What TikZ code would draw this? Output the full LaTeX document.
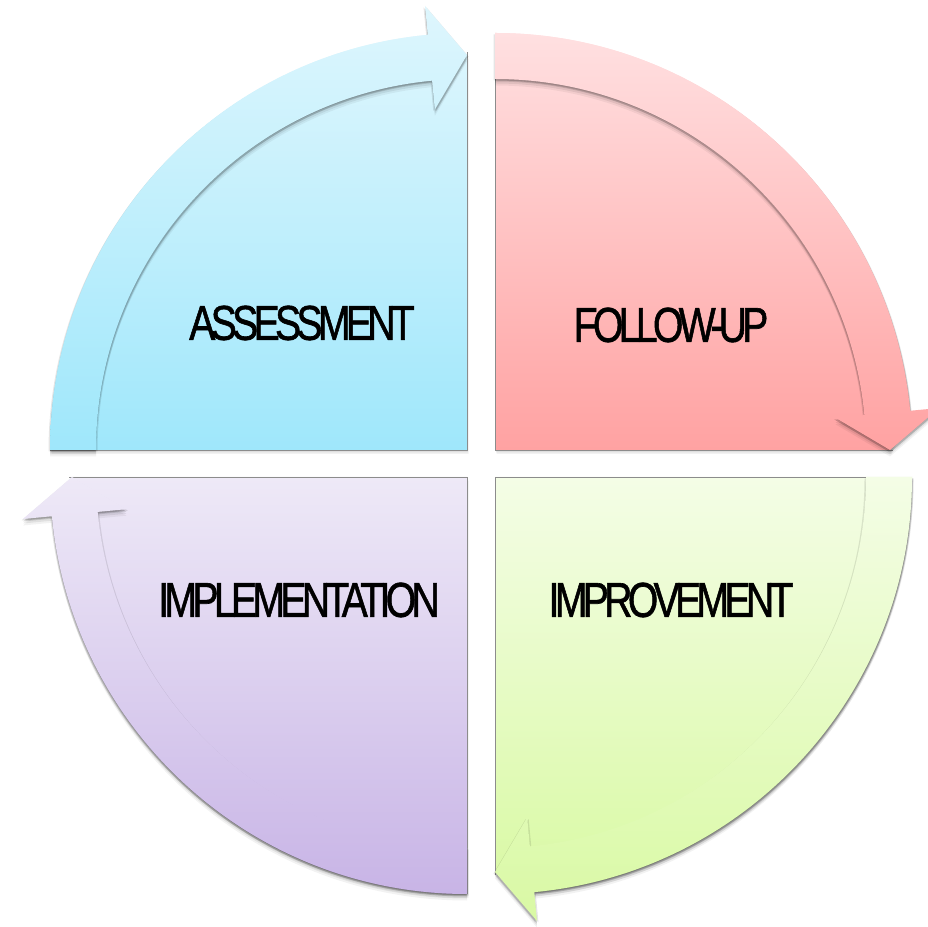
\documentclass[tikz,border=0pt]{standalone}
\usepackage{fontspec}
\setmainfont{Liberation Sans}
\newfontfamily\lblfont[LetterSpace=-12,FakeBold=1.3]{Liberation Sans}
\usetikzlibrary{shadows}
\definecolor{blueT}{HTML}{DEF6FD}
\definecolor{blueB}{HTML}{9FE7FB}
\definecolor{pinkT}{HTML}{FFE0E1}
\definecolor{pinkB}{HTML}{FFA2A2}
\definecolor{greenT}{HTML}{F4FDE6}
\definecolor{greenB}{HTML}{D9F9A4}
\definecolor{purpT}{HTML}{EEE9F7}
\definecolor{purpB}{HTML}{C8B4E6}
\tikzset{
  sectorshape/.style={
    general shadow={fill=black,opacity=0.10,shadow xshift=0.5pt,shadow yshift=-1pt},
    general shadow={fill=black,opacity=0.08,shadow xshift=1pt,shadow yshift=-2.5pt},
    general shadow={fill=black,opacity=0.05,shadow xshift=1.5pt,shadow yshift=-4pt}},
  bandshape/.style={
    general shadow={fill=black,opacity=0.10,shadow xshift=-1.5pt,shadow yshift=-1.5pt},
    general shadow={fill=black,opacity=0.10,shadow xshift=1.5pt,shadow yshift=-1.5pt},
    general shadow={fill=black,opacity=0.12,shadow xshift=0pt,shadow yshift=-2.5pt},
    general shadow={fill=black,opacity=0.07,shadow xshift=0pt,shadow yshift=-4.5pt},
    general shadow={fill=black,opacity=0.05,shadow xshift=0pt,shadow yshift=-6.5pt}},
  edgeline/.style={draw=black!45,line width=0.9pt},
  lbl/.style={inner sep=0pt,font=\lblfont\fontsize{49}{49}\selectfont}
}
\begin{document}
\begin{tikzpicture}[x=1pt,y=1pt]
\useasboundingbox (0,0) rectangle (928,926);
\fill[white] (0,0) rectangle (928,926);
% top-left (blue)
\begin{scope}[shift={(467,476)}]
  \shade[sectorshape,top color=blueT,bottom color=blueB] (0,0) -- (180:417) arc[start angle=180,end angle=95.4,radius=417] -- (90:395) -- cycle;
  \draw[edgeline] (180:417) -- (0,0) -- (90:398);
  \shade[bandshape,top color=blueT,bottom color=blueB] (180:417) arc[start angle=180,end angle=95.4,radius=417] -- (95.4:446) -- (90:395) -- (95.4:342) -- (95.4:371) arc[start angle=95.4,end angle=180,radius=371] -- cycle;
\end{scope}
% top-right (pink)
\begin{scope}[shift={(495,476)}]
  \shade[sectorshape,top color=pinkT,bottom color=pinkB] (0,0) -- (90:417) arc[start angle=90,end angle=5.4,radius=417] -- (0:395) -- cycle;
  \draw[edgeline] (90:417) -- (0,0) -- (0:398);
  \shade[bandshape,top color=pinkT,bottom color=pinkB] (90:417) arc[start angle=90,end angle=5.4,radius=417] -- (5.4:446) -- (0:395) -- (5.4:342) -- (5.4:371) arc[start angle=5.4,end angle=90,radius=371] -- cycle;
\end{scope}
% bottom-right (green)
\begin{scope}[shift={(495,449)}]
  \shade[sectorshape,top color=greenT,bottom color=greenB] (0,0) -- (0:417) arc[start angle=0,end angle=-84.6,radius=417] -- (-90:395) -- cycle;
  \draw[edgeline] (0:398) -- (0,0) -- (-90:398);
  \shade[bandshape,top color=greenT,bottom color=greenB] (0:417) arc[start angle=0,end angle=-84.6,radius=417] -- (-84.6:446) -- (-90:395) -- (-84.6:342) -- (-84.6:371) arc[start angle=-84.6,end angle=0,radius=371] -- cycle;
\end{scope}
% bottom-left (purple)
\begin{scope}[shift={(467,449)}]
  \shade[sectorshape,top color=purpT,bottom color=purpB] (0,0) -- (-90:417) arc[start angle=-90,end angle=-174.6,radius=417] -- (180:395) -- cycle;
  \draw[edgeline] (-90:417) -- (0,0) -- (180:398);
  \shade[bandshape,top color=purpT,bottom color=purpB] (-90:417) arc[start angle=-90,end angle=-174.6,radius=417] -- (-174.6:446) -- (180:395) -- (-174.6:342) -- (-174.6:371) arc[start angle=-174.6,end angle=-90,radius=371] -- cycle;
\end{scope}
% labels
\node[lbl] (assess) at (302,603) {\scalebox{0.8}[1]{ASSESSMENT}};
\node[lbl] (follow) at (671,601) {\scalebox{0.8}[1]{FOLLOW-UP}};
\node[lbl] (implem) at (299,326) {\scalebox{0.8}[1]{IMPLEMENTATION}};
\node[lbl] (improv) at (671,326) {\scalebox{0.8}[1]{IMPROVEMENT}};
\end{tikzpicture}
\end{document}
